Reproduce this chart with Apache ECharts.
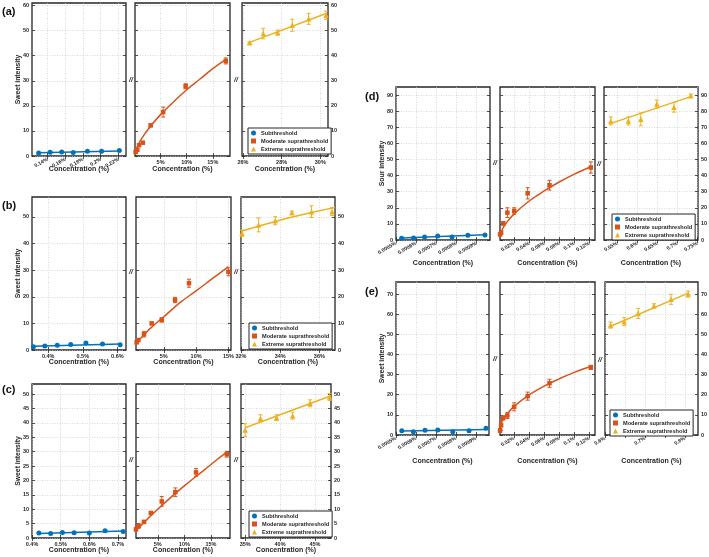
<!DOCTYPE html>
<html><head><meta charset="utf-8">
<script src="https://cdn.jsdelivr.net/npm/echarts@6/dist/echarts.min.js"></script>
<style>html,body{margin:0;padding:0;background:#fff}#c{width:709px;height:557px}</style>
</head><body><div id="c"></div>
<script>
// ---------------- DATA ----------------
// Panel (a)
const aYTicks = [0,10,20,30,40,50,60];
const aSubX = [0.130,0.143,0.156,0.169,0.185,0.201,0.221];
const aSubY = [1.2,1.5,1.6,1.35,1.9,1.9,2.15];
const aSubFitX = [0.130,0.221];
const aSubFitY = [1.25,2.0];
const aSubXTicks = [0.14,0.16,0.18,0.2,0.22];
const aModX = [0.23,0.54,0.87,1.6,3.1,5.5,9.8,17.5];
const aModY = [1.6,2.5,4.3,5.3,12.2,17.5,27.8,37.9];
const aModErr = [0.4,0.5,0.5,0.5,0.5,2.0,1.0,1.2];
const aModFitX = [0.2,0.5,1,2,3,5,7.5,10,12.5,15,17.5];
const aModFitY = [1.8,3.5,5.6,8.9,11.7,16.5,21.6,26.4,30.6,34.8,38.5];
const aModXTicks = [5,10,15];
const aExtX = [26.34,27.05,27.8,28.55,29.4,30.3];
const aExtY = [45.2,48.8,49.2,52.1,54.7,56.1];
const aExtErr = [0.3,2.1,1.0,2.4,2.2,1.7];
const aExtFitX = [26.34,30.3];
const aExtFitY = [45.3,56.8];
const aExtXTicks = [26,28,30];

// Panel (b)
const bYTicks = [0,10,20,30,40,50];
const bSubX = [0.357,0.39,0.426,0.465,0.509,0.557,0.608];
const bSubY = [1.24,1.5,1.75,2.1,2.6,2.25,2.0];
const bSubFitX = [0.357,0.608];
const bSubFitY = [1.4,2.3];
const bSubXTicks = [0.4,0.5,0.6];
const bModX = [0.81,1.06,1.94,3.13,4.68,6.74,8.9,15.0];
const bModY = [2.9,3.75,5.9,10.0,11.3,18.8,25.1,29.4];
const bModErr = [0.5,0.5,1.0,0.5,0.8,1.0,1.5,1.5];
const bModFitX = [0.8,1,2,3,5,7.5,10,12.5,15];
const bModFitY = [2.7,3.3,5.8,8.3,12.5,17.8,22.2,26.8,31.3];
const bModXTicks = [5,10,15];
const bExtX = [32.05,32.9,33.75,34.6,35.6,36.65];
const bExtY = [43.9,47.0,48.6,51.6,52.0,52.0];
const bExtErr = [1.2,2.6,1.5,0.6,2.2,1.5];
const bExtFitX = [32,33.2,34.4,35.6,36.8];
const bExtFitY = [44.6,47.2,49.6,51.7,53.6];
const bExtXTicks = [32,34,36];

// Panel (c)
const cYTicks = [0,5,10,15,20,25,30,35,40,45,50];
const cSubX = [0.424,0.465,0.506,0.547,0.6,0.655,0.718];
const cSubY = [1.7,1.6,1.95,1.85,1.7,2.5,2.3];
const cSubFitX = [0.424,0.718];
const cSubFitY = [1.6,2.4];
const cSubXTicks = [0.4,0.5,0.6,0.7];
const cModX = [0.9,1.4,2.4,3.7,5.75,8.3,12.2,18.0];
const cModY = [3.0,4.2,5.6,8.7,12.7,15.9,22.8,29.1];
const cModErr = [0.5,0.8,0.5,0.4,1.7,1.5,1.3,1.0];
const cModFitX = [0.9,2,4,6,8,10,12,14,16,18];
const cModFitY = [2.6,4.6,8.3,11.7,15.0,18.1,21.1,24.0,27.0,29.8];
const cModXTicks = [5,10,15];
const cExtX = [35.0,37.2,39.5,41.8,44.3,47.1];
const cExtY = [37.5,41.6,41.8,42.5,46.8,49.0];
const cExtErr = [2.2,1.2,1.0,1.2,1.2,1.2];
const cExtFitX = [35.0,47.3];
const cExtFitY = [38.3,49.4];
const cExtXTicks = [35,40,45];

// Panel (d)
const dYTicks = [0,10,20,30,40,50,60,70,80,90];
const dSubX = [0.000528,0.000587,0.000642,0.000707,0.000778,0.000857,0.000942];
const dSubY = [1.05,1.25,1.9,2.5,1.9,2.9,3.1];
const dSubFitX = [0.000528,0.000942];
const dSubFitY = [1.3,3.3];
const dSubXTicks = [0.0005,0.0006,0.0007,0.0008,0.0009];
const dModX = [0.0013,0.0027,0.0055,0.011,0.020,0.038,0.067,0.122];
const dModY = [3.5,4.6,10.3,17.0,18.0,29.0,34.0,45.0];
const dModErr = [1.0,1.0,1.0,3.0,2.0,3.5,3.0,3.5];
const dModFitX = [0.001,0.002,0.005,0.01,0.02,0.04,0.06,0.08,0.1,0.122];
const dModFitY = [2.9,4.2,7.3,10.9,16.2,24.2,30.5,36.0,40.9,45.5];
const dModXTicks = [0.02,0.04,0.06,0.08,0.1,0.12];
const dExtX = [0.534,0.578,0.609,0.649,0.692,0.734];
const dExtY = [73.9,73.9,74.9,84.4,82.4,89.6];
const dExtErr = [2.5,2.5,4.0,2.5,3.0,1.0];
const dExtFitX = [0.534,0.734];
const dExtFitY = [72.4,89.0];
const dExtXTicks = [0.55,0.6,0.65,0.7,0.75];

// Panel (e)
const eYTicks = [0,10,20,30,40,50,60,70];
const eSubX = [0.000529,0.000587,0.000645,0.000709,0.000784,0.000865,0.00095];
const eSubY = [2.17,1.67,2.33,2.5,1.67,2.17,3.33];
const eSubFitX = [0.000529,0.00095];
const eSubFitY = [2.0,2.7];
const eSubXTicks = [0.0005,0.0006,0.0007,0.0008,0.0009];
const eModX = [0.0013,0.0027,0.0055,0.011,0.020,0.038,0.067,0.122];
const eModY = [2.2,4.8,8.5,9.7,14.0,19.3,25.7,33.6];
const eModErr = [1.0,2.5,1.0,1.5,2.0,2.0,2.0,1.0];
const eModFitX = [0.001,0.002,0.005,0.01,0.02,0.04,0.06,0.08,0.1,0.122];
const eModFitY = [3.3,4.7,7.5,10.1,14.2,19.9,24.3,27.9,31.1,34.0];
const eModXTicks = [0.02,0.04,0.06,0.08,0.1,0.12];
const eExtX = [0.614,0.648,0.683,0.7225,0.765,0.808];
const eExtY = [54.6,56.3,60.4,64.2,67.4,70.0];
const eExtErr = [1.5,2.0,2.5,1.0,2.5,1.5];
const eExtFitX = [0.614,0.808];
const eExtFitY = [54.0,70.5];
const eExtXTicks = [0.6,0.65,0.7,0.75,0.8];
const eExtXLabels = [0.6,0.7,0.8];

const seriesNames = ['Subthreshold','Moderate suprathreshold','Extreme suprathreshold'];
const xTitle = 'Concentration (%)';

// ---------------- PANEL DEFINITIONS ----------------
const panels = [
  {label:'(a)', yName:'Sweet intensity', yMax:61, yTicks:aYTicks,
   subs:[
     {x:aSubX,y:aSubY,fx:aSubFitX,fy:aSubFitY,ticks:aSubXTicks,min:0.1225,max:0.2285,rot:30},
     {x:aModX,y:aModY,e:aModErr,fx:aModFitX,fy:aModFitY,ticks:aModXTicks,min:0.1,max:18.3,rot:0},
     {x:aExtX,y:aExtY,e:aExtErr,fx:aExtFitX,fy:aExtFitY,ticks:aExtXTicks,min:25.95,max:30.4,rot:0}]},
  {label:'(b)', yName:'Sweet intensity', yMax:57.5, yTicks:bYTicks,
   subs:[
     {x:bSubX,y:bSubY,fx:bSubFitX,fy:bSubFitY,ticks:bSubXTicks,min:0.353,max:0.625,rot:0},
     {x:bModX,y:bModY,e:bModErr,fx:bModFitX,fy:bModFitY,ticks:bModXTicks,min:0.7,max:15.4,rot:0},
     {x:bExtX,y:bExtY,e:bExtErr,fx:bExtFitX,fy:bExtFitY,ticks:bExtXTicks,min:32,max:36.8,rot:0}]},
  {label:'(c)', yName:'Sweet intensity', yMax:53.5, yTicks:cYTicks,
   subs:[
     {x:cSubX,y:cSubY,fx:cSubFitX,fy:cSubFitY,ticks:cSubXTicks,min:0.4,max:0.728,rot:0},
     {x:cModX,y:cModY,e:cModErr,fx:cModFitX,fy:cModFitY,ticks:cModXTicks,min:0.9,max:18.6,rot:0},
     {x:cExtX,y:cExtY,e:cExtErr,fx:cExtFitX,fy:cExtFitY,ticks:cExtXTicks,min:34.4,max:47.3,rot:0}]},
  {label:'(d)', yName:'Sour intensity', yMax:95, yTicks:dYTicks,
   subs:[
     {x:dSubX,y:dSubY,fx:dSubFitX,fy:dSubFitY,ticks:dSubXTicks,min:0.0005,max:0.000967,rot:30},
     {x:dModX,y:dModY,e:dModErr,fx:dModFitX,fy:dModFitY,ticks:dModXTicks,min:0.0012,max:0.1275,rot:30},
     {x:dExtX,y:dExtY,e:dExtErr,fx:dExtFitX,fy:dExtFitY,ticks:dExtXTicks,min:0.517,max:0.752,rot:30}]},
  {label:'(e)', yName:'Sweet intensity', yMax:76, yTicks:eYTicks,
   subs:[
     {x:eSubX,y:eSubY,fx:eSubFitX,fy:eSubFitY,ticks:eSubXTicks,min:0.0005,max:0.000965,rot:30},
     {x:eModX,y:eModY,e:eModErr,fx:eModFitX,fy:eModFitY,ticks:eModXTicks,min:0.0012,max:0.1275,rot:30},
     {x:eExtX,y:eExtY,e:eExtErr,fx:eExtFitX,fy:eExtFitY,ticks:eExtXTicks,labels:eExtXLabels,min:0.6,max:0.8325,rot:30}]}
];

// ---------------- LAYOUT ----------------
const layout = [
  {top:3,   height:153, subs:[[32,94],[135,95],[242,86]], xGap:9.5, label:[2,6],   legend:[248,128], breaks:[[131,80],[236,80]]},
  {top:197, height:153, subs:[[32,94],[136,95],[241,94]], xGap:9,   label:[2,200], legend:[249,323], breaks:[[131,272],[236,272]]},
  {top:384, height:154, subs:[[32,94],[136,94],[241,90]], xGap:9,   label:[2,384], legend:[249,511], breaks:[[131,460],[236,460]]},
  {top:87,  height:153, subs:[[396,94],[500,95],[604,94]], xGap:19.5, label:[365,91], legend:[612,214], breaks:[[495,163],[599,164]]},
  {top:282, height:153, subs:[[396,93],[500,95],[605,93]], xGap:23, label:[365,286], legend:[610,410], breaks:[[495,359],[600,360]]}
];

const COLORS = ['#0072BD','#D95319','#EDB120'];
const SYMBOLS = ['circle','rect','triangle'];
const SIZES = [5,4.5,5.5];
const FONT = '"Liberation Sans", Arial, sans-serif';
const INK = '#262626';

function zip(a,b){ return a.map((v,i)=>[v,b[i]]); }
function errData(x,y,e){ return x.map((v,i)=>[v,y[i]-e[i],y[i]+e[i]]); }
function errRender(color){
  return function(params, api){
    const x = api.value(0), lo = api.value(1), hi = api.value(2);
    const p1 = api.coord([x,hi]), p2 = api.coord([x,lo]);
    const w = 2;
    const st = {stroke:color, lineWidth:1};
    return {type:'group', children:[
      {type:'line', shape:{x1:p1[0],y1:p1[1],x2:p2[0],y2:p2[1]}, style:st},
      {type:'line', shape:{x1:p1[0]-w,y1:p1[1],x2:p1[0]+w,y2:p1[1]}, style:st},
      {type:'line', shape:{x1:p2[0]-w,y1:p2[1],x2:p2[0]+w,y2:p2[1]}, style:st}
    ]};
  };
}
const fmtPct = v => v + '%';

const option = {animation:false, backgroundColor:'#fff', textStyle:{fontFamily:FONT},
  grid:[], xAxis:[], yAxis:[], series:[], legend:[], graphic:[]};

panels.forEach((P, pi) => {
  const L = layout[pi];
  P.subs.forEach((S, k) => {
    const g = option.grid.length;
    option.grid.push({left:L.subs[k][0], top:L.top, width:L.subs[k][1], height:L.height,
      show:true, borderColor:INK, borderWidth:1.3, backgroundColor:'#fff', containLabel:false, outerBoundsMode:'none'});
    const xi = option.xAxis.length;
    option.xAxis.push({type:'value', gridIndex:g, position:'bottom', min:S.min, max:S.max,
      axisLine:{show:false},
      axisTick:{show:true, inside:true, length:3, customValues:S.ticks, lineStyle:{color:INK, width:0.8}},
      axisLabel:{show:true, customValues:S.labels || S.ticks, formatter:fmtPct, rotate:S.rot, fontSize:S.rot ? 5.2 : 5.5,
        fontWeight:'bold', color:INK, margin:3, fontFamily:FONT, hideOverlap:false},
      splitLine:{show:true, lineStyle:{color:'#c8c8c8', type:[1,1.5], width:0.7}},
      name:xTitle, nameLocation:'middle', nameGap:L.xGap, nameMoveOverlap:false,
      nameTextStyle:{fontSize:7, fontWeight:'bold', color:INK, fontFamily:FONT}});
    option.xAxis.push({type:'value', gridIndex:g, position:'top', min:S.min, max:S.max,
      axisLine:{show:false},
      axisTick:{show:true, inside:true, length:3, customValues:S.ticks, lineStyle:{color:INK, width:0.8}},
      axisLabel:{show:false}, splitLine:{show:false}});
    const yi = option.yAxis.length;
    option.yAxis.push({type:'value', gridIndex:g, position:k===2?'right':'left', min:0, max:P.yMax,
      axisLine:{show:false},
      axisTick:{show:true, inside:true, length:3, customValues:P.yTicks, lineStyle:{color:INK, width:0.8}},
      axisLabel:{show:k!==1, customValues:P.yTicks, fontSize:5.5, fontWeight:'bold', color:INK, margin:3, fontFamily:FONT},
      splitLine:{show:true, lineStyle:{color:'#c8c8c8', type:[1,1.5], width:0.7}},
      name:k===0?P.yName:'', nameLocation:'middle', nameGap:10, nameRotate:90, nameMoveOverlap:false,
      nameTextStyle:{fontSize:6.8, fontWeight:'bold', color:INK, fontFamily:FONT}});
    option.yAxis.push({type:'value', gridIndex:g, position:k===2?'left':'right', min:0, max:P.yMax,
      axisLine:{show:false},
      axisTick:{show:true, inside:true, length:3, customValues:P.yTicks, lineStyle:{color:INK, width:0.8}},
      axisLabel:{show:false}, splitLine:{show:false}});

    const col = COLORS[k];
    if (S.e) {
      option.series.push({type:'custom', name:'err'+pi+k, xAxisIndex:xi, yAxisIndex:yi,
        data:errData(S.x,S.y,S.e), encode:{x:0, y:[1,2]}, renderItem:errRender(col), silent:true, z:3});
    }
    option.series.push({type:'line', name:'fit'+pi+k, xAxisIndex:xi, yAxisIndex:yi,
      data:zip(S.fx,S.fy), showSymbol:false, smooth:k===1 ? 0.4 : false, silent:true,
      lineStyle:{color:col, width:1.5}, itemStyle:{color:col}, z:2});
    option.series.push({type:'scatter', name:seriesNames[k], xAxisIndex:xi, yAxisIndex:yi,
      data:zip(S.x,S.y), symbol:SYMBOLS[k], symbolSize:SIZES[k], itemStyle:{color:col, opacity:1}, z:4});
  });

  option.legend.push({data:[{name:seriesNames[0],icon:'circle'},{name:seriesNames[1],icon:'rect'},{name:seriesNames[2],icon:'triangle'}],
    orient:'vertical', left:L.legend[0], top:L.legend[1], itemWidth:5, itemHeight:5, itemGap:2,
    padding:[2,3,2,3], borderColor:INK, borderWidth:1, backgroundColor:'#fff', selectedMode:false,
    textStyle:{fontSize:5.6, fontWeight:'bold', color:INK, fontFamily:FONT}, z:10});

  option.graphic.push({type:'text', left:L.label[0], top:L.label[1], z:10,
    style:{text:P.label, font:'bold 11px ' + FONT, fill:'#111'}});
  L.breaks.forEach(b => option.graphic.push({type:'text', x:b[0], y:b[1], z:10,
    style:{text:'//', font:'italic bold 7px ' + FONT, fill:INK, align:'center', verticalAlign:'middle'}}));
});

const chart = echarts.init(document.getElementById('c'), null, {renderer:'canvas'});
chart.setOption(option);
</script></body></html>
